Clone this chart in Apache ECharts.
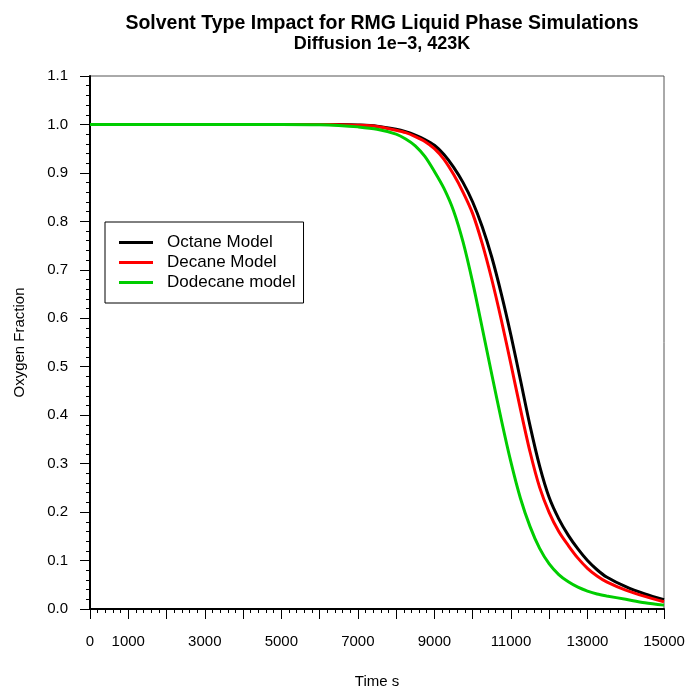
<!DOCTYPE html>
<html>
<head>
<meta charset="utf-8">
<script src="https://cdn.jsdelivr.net/npm/echarts@6/dist/echarts.min.js"></script>
<style>html,body{margin:0;padding:0;background:#fff}#chart{width:690px;height:688px}</style>
</head>
<body>
<div id="chart"></div>
<script>
const titleLines = ['Solvent Type Impact for RMG Liquid Phase Simulations', 'Diffusion 1e\u22123, 423K'];
const xName = 'Time s';
const yName = 'Oxygen Fraction';
const seriesNames = ['Octane Model', 'Decane Model', 'Dodecane model'];
const seriesColors = ['#000000', '#ff0000', '#00cd00'];

const times = [0, 1000, 2000, 3000, 4000, 5000, 6000, 6500, 7000, 7500,
  8000, 8250, 8500, 8750, 9000, 9250, 9500, 9750, 10000, 10250, 10500, 10750,
  11000, 11250, 11500, 11750, 12000, 12250, 12500, 12750, 13000, 13250,
  13500, 14000, 14500, 15000];
const octane = [1, 1, 1, 1, 1, 1, 1, 0.9997, 0.9988, 0.9965,
  0.990, 0.985, 0.978, 0.969, 0.957, 0.938, 0.912, 0.880, 0.840, 0.789, 0.726, 0.650,
  0.565, 0.472, 0.378, 0.295, 0.230, 0.186, 0.152, 0.124, 0.100, 0.081,
  0.066, 0.046, 0.031, 0.019];
const decane = [1, 1, 1, 1, 1, 1, 1, 0.9996, 0.9985, 0.996,
  0.988, 0.983, 0.975, 0.965, 0.950, 0.928, 0.897, 0.860, 0.816, 0.754, 0.680, 0.596,
  0.505, 0.412, 0.324, 0.251, 0.199, 0.160, 0.131, 0.105, 0.084, 0.068,
  0.056, 0.039, 0.026, 0.015];
const dodecane = [1, 1, 1, 1, 1, 1, 0.9995, 0.998, 0.995, 0.990,
  0.980, 0.970, 0.956, 0.934, 0.903, 0.868, 0.822, 0.757, 0.674, 0.580, 0.484, 0.390,
  0.303, 0.228, 0.170, 0.125, 0.093, 0.071, 0.056, 0.045, 0.037, 0.031,
  0.027, 0.020, 0.013, 0.008];

const xLabeled = [0, 1000, 3000, 5000, 7000, 9000, 11000, 13000, 15000];

const valuesList = [octane, decane, dodecane];
const chart = echarts.init(document.getElementById('chart'));
const FONT = 'Liberation Sans, Arial, sans-serif';

chart.setOption({
  animation: false,
  backgroundColor: '#ffffff',
  title: {
    text: '{a|' + titleLines[0] + '}\n{b|' + titleLines[1] + '}',
    left: 377,
    top: 8,
    textAlign: 'center',
    textStyle: {
      fontFamily: FONT, fontWeight: 'bold', color: '#000',
      rich: {
        a: { fontFamily: FONT, fontSize: 19.5, fontWeight: 'bold', color: '#000', lineHeight: 21, align: 'center' },
        b: { fontFamily: FONT, fontSize: 18, fontWeight: 'bold', color: '#000', lineHeight: 21, align: 'center' }
      }
    }
  },
  grid: {
    left: 90, right: 26, top: 76, bottom: 79,
    outerBoundsMode: 'none',
    containLabel: false,
    show: true, borderColor: '#555', borderWidth: 1, backgroundColor: 'transparent'
  },
  legend: {
    orient: 'vertical',
    left: 105, top: 222,
    padding: [12, 8, 12, 14],
    borderColor: '#000', borderWidth: 1,
    itemWidth: 34, itemHeight: 3, itemGap: 3,
    icon: 'rect',
    textStyle: { fontFamily: FONT, fontSize: 17, color: '#000', lineHeight: 17, padding: [0, 0, 0, 9] },
    data: seriesNames
  },
  xAxis: {
    type: 'value', min: 0, max: 15000, interval: 1000,
    name: xName, nameLocation: 'middle', nameGap: 65,
    nameTextStyle: { fontFamily: FONT, fontSize: 15, color: '#000' },
    axisLine: { onZero: false, lineStyle: { color: '#000', width: 2 } },
    axisTick: { show: true, length: 10, lineStyle: { color: '#000', width: 1 } },
    minorTick: { show: true, splitNumber: 5, length: 4, lineStyle: { color: '#000', width: 1 } },
    splitLine: { show: false },
    axisLabel: {
      margin: 25, fontFamily: FONT, fontSize: 15, color: '#000',
      formatter: v => xLabeled.includes(v) ? String(v) : ''
    }
  },
  yAxis: {
    type: 'value', min: 0, max: 1.1, interval: 0.1,
    name: yName, nameLocation: 'middle', nameGap: 63,
    nameTextStyle: { fontFamily: FONT, fontSize: 15, color: '#000' },
    axisLine: { onZero: false, lineStyle: { color: '#000', width: 2 } },
    axisTick: { show: true, length: 10, lineStyle: { color: '#000', width: 1 } },
    minorTick: { show: true, splitNumber: 5, length: 4, lineStyle: { color: '#000', width: 1 } },
    splitLine: { show: false },
    axisLabel: {
      margin: 22, fontFamily: FONT, fontSize: 15, color: '#000',
      formatter: v => v.toFixed(1)
    }
  },
  series: seriesNames.map((name, i) => ({
    name: name,
    type: 'line',
    data: times.map((t, j) => [t, valuesList[i][j]]),
    smooth: 0.3,
    showSymbol: false,
    symbol: 'none',
    color: seriesColors[i],
    lineStyle: { color: seriesColors[i], width: 3 },
    clip: true
  }))
});
</script>
</body>
</html>
